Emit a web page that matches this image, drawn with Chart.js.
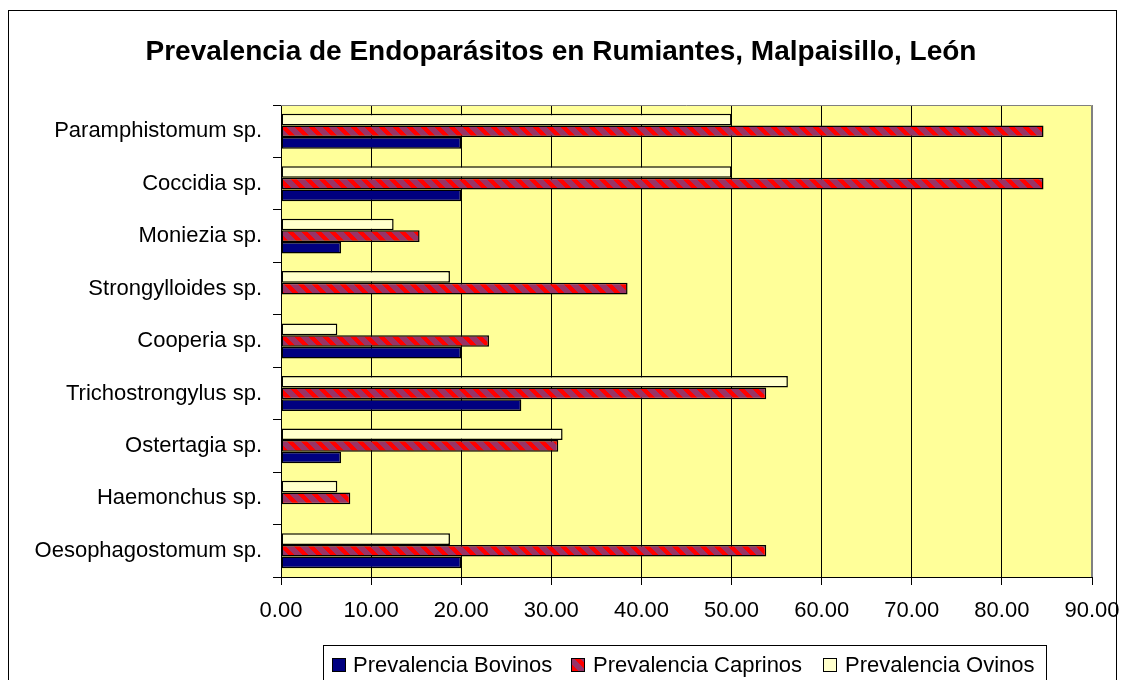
<!DOCTYPE html>
<html>
<head>
<meta charset="utf-8">
<script src="https://cdn.jsdelivr.net/npm/chart.js@4.4.1/dist/chart.umd.min.js"></script>
<style>
  html, body { margin: 0; padding: 0; background: #ffffff; }
  canvas { display: block; }
</style>
</head>
<body>
<canvas id="chart" width="1125" height="680"></canvas>
<script>
// Parasite genera, listed top to bottom
const categories = [
  'Paramphistomum sp.',
  'Coccidia sp.',
  'Moniezia sp.',
  'Strongylloides sp.',
  'Cooperia sp.',
  'Trichostrongylus sp.',
  'Ostertagia sp.',
  'Haemonchus sp.',
  'Oesophagostomum sp.'
];

// Prevalence (%) per host species
const bovinos  = [20.00, 20.00,  6.67,  0.00, 20.00, 26.67,  6.67, 0.00, 20.00];
const caprinos = [84.62, 84.62, 15.38, 38.46, 23.08, 53.85, 30.77, 7.69, 53.85];
const ovinos   = [50.00, 50.00, 12.50, 18.75,  6.25, 56.25, 31.25, 6.25, 18.75];

const seriesNames = ['Prevalencia Bovinos', 'Prevalencia Caprinos', 'Prevalencia Ovinos'];
const xTickValues = [0, 10, 20, 30, 40, 50, 60, 70, 80, 90];
const titleText = 'Prevalencia de Endoparásitos en Rumiantes, Malpaisillo, León';

const FONT = "'Liberation Sans', Arial, Helvetica, sans-serif";
const canvas = document.getElementById('chart');
const ctx = canvas.getContext('2d');

// Red / plum diagonal hatch used for the goat series
function makeHatch() {
  const s = 14;
  const c = document.createElement('canvas');
  c.width = s; c.height = s;
  const g = c.getContext('2d');
  g.fillStyle = '#993366';
  g.fillRect(0, 0, s, s);
  g.fillStyle = '#ff0000';
  for (let y = 0; y < s; y++) {
    for (let x = 0; x < s; x++) {
      if ((((x - y) % s) + s) % s < 6) g.fillRect(x, y, 1, 1);
    }
  }
  return ctx.createPattern(c, 'repeat');
}
const hatch = makeHatch();

const colors = {
  bovinos: '#000080',
  caprinos: hatch,
  ovinos: '#ffffcc',
  plot: '#ffff99'
};

// Background, outer frame and plot fill
const framePlugin = {
  id: 'frame',
  beforeDraw(chart) {
    const c = chart.ctx;
    const a = chart.chartArea;
    c.save();
    c.fillStyle = '#ffffff';
    c.fillRect(0, 0, chart.width, chart.height);
    c.strokeStyle = '#000000';
    c.lineWidth = 1;
    c.strokeRect(8.5, 10.5, 1108, 700);
    c.fillStyle = colors.plot;
    c.fillRect(a.left, a.top, a.right - a.left, a.bottom - a.top);
    c.restore();
  },
  beforeDatasetsDraw(chart) {
    const c = chart.ctx;
    const a = chart.chartArea;
    c.save();
    c.strokeStyle = '#808080';
    c.lineWidth = 1;
    c.beginPath();
    c.moveTo(a.left, a.top + 0.5);
    c.lineTo(a.right - 0.5, a.top + 0.5);
    c.lineTo(a.right - 0.5, a.bottom);
    c.stroke();
    c.restore();
  },
  afterDraw(chart) {
    const c = chart.ctx;
    c.save();
    // title
    c.fillStyle = '#000000';
    c.font = 'bold 28px ' + FONT;
    c.textAlign = 'center';
    c.textBaseline = 'alphabetic';
    c.fillText(titleText, 561, 60);

    // legend
    c.strokeStyle = '#000000';
    c.lineWidth = 1;
    c.strokeRect(323.5, 645.5, 723, 60);
    const fills = [colors.bovinos, colors.caprinos, colors.ovinos];
    const markerX = [332, 571, 823];
    const textX = [353, 593, 845];
    c.font = '22px ' + FONT;
    c.textAlign = 'left';
    c.textBaseline = 'middle';
    for (let i = 0; i < 3; i++) {
      c.fillStyle = fills[i];
      c.fillRect(markerX[i], 658, 14, 14);
      c.strokeRect(markerX[i] + 0.5, 658.5, 13, 13);
      c.fillStyle = '#000000';
      c.fillText(seriesNames[i], textX[i], 666);
    }
    c.restore();
  }
};

const barStyle = {
  borderColor: '#000000',
  borderWidth: 1.5,
  borderSkipped: false,
  categoryPercentage: 3 / 4.5,
  barPercentage: 1.0
};

new Chart(canvas, {
  type: 'bar',
  data: {
    labels: categories,
    datasets: [
      Object.assign({ label: seriesNames[2], data: ovinos,   backgroundColor: colors.ovinos },   barStyle),
      Object.assign({ label: seriesNames[1], data: caprinos, backgroundColor: colors.caprinos }, barStyle),
      Object.assign({ label: seriesNames[0], data: bovinos,  backgroundColor: colors.bovinos },  barStyle)
    ]
  },
  options: {
    indexAxis: 'y',
    responsive: false,
    devicePixelRatio: 1,
    animation: false,
    events: [],
    layout: { padding: { top: 105, right: 33, bottom: 0, left: 0 } },
    plugins: {
      legend: { display: false },
      title: { display: false },
      tooltip: { enabled: false }
    },
    scales: {
      x: {
        type: 'linear',
        min: 0,
        max: 90,
        afterBuildTicks(scale) {
          scale.ticks = xTickValues.map(v => ({ value: v }));
        },
        afterFit(scale) {
          scale.height = 103;
          scale.paddingLeft = 0;
          scale.paddingRight = 0;
        },
        border: { display: true, color: '#000000', width: 1 },
        grid: {
          color: (c) => (c.tick && c.tick.value === 90 ? '#808080' : '#000000'),
          lineWidth: 1,
          drawTicks: true,
          tickLength: 8,
          tickColor: '#000000'
        },
        ticks: {
          color: '#000000',
          font: { family: FONT, size: 22 },
          padding: 13,
          maxRotation: 0,
          autoSkip: false,
          callback: (v) => Number(v).toFixed(2)
        }
      },
      y: {
        type: 'category',
        offset: true,
        afterFit(scale) { scale.width = 281; },
        border: { display: true, color: '#000000', width: 1 },
        grid: {
          offset: true,
          drawOnChartArea: false,
          drawTicks: true,
          tickLength: 8,
          color: '#000000'
        },
        ticks: {
          color: '#000000',
          font: { family: FONT, size: 22 },
          padding: 11,
          autoSkip: false
        }
      }
    }
  },
  plugins: [framePlugin]
});
</script>
</body>
</html>
